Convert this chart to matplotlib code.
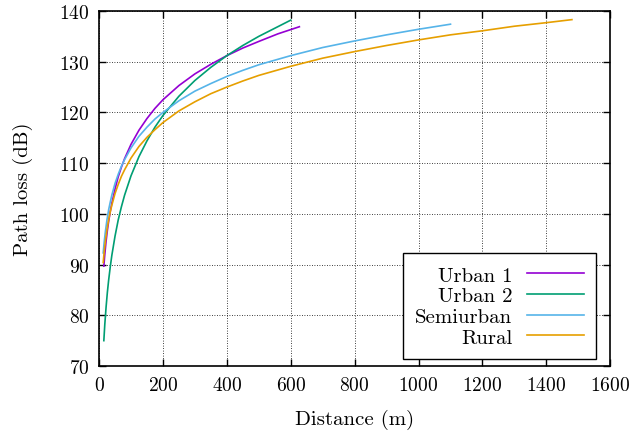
import matplotlib
matplotlib.use("Agg")
import matplotlib.pyplot as plt

# values
urban1_d = [15, 18, 22, 26, 30, 35, 40, 50, 60, 70, 80, 100, 125, 150, 175, 200, 250,
            300, 350, 400, 450, 500, 560, 627]
urban1_pl = [89.7, 92.0, 94.6, 96.7, 98.5, 100.4, 102.1, 104.9, 107.3, 109.2, 110.9,
             113.7, 116.5, 118.8, 120.8, 122.5, 125.3, 127.6, 129.5, 131.2, 132.7, 134.0,
             135.5, 136.9]

urban2_d = [15, 18, 22, 26, 30, 35, 40, 50, 60, 70, 80, 100, 125, 150, 175, 200, 250,
            300, 350, 400, 450, 500, 550, 600]
urban2_pl = [75.0, 78.2, 81.6, 84.5, 86.9, 89.5, 91.8, 95.6, 98.8, 101.4, 103.7,
             107.5, 111.3, 114.4, 117.1, 119.4, 123.2, 126.3, 128.9, 131.2, 133.2, 135.0,
             136.6, 138.2]

semi_d = [13, 16, 20, 25, 30, 35, 40, 50, 60, 70, 80, 100, 125, 150, 175, 200, 250,
          300, 350, 400, 450, 500, 600, 700, 800, 900, 1000, 1100]
semi_pl = [92.3, 94.4, 96.6, 98.9, 100.8, 102.3, 103.7, 106.0, 107.8, 109.4, 110.7,
           113.0, 115.3, 117.1, 118.7, 120.0, 122.3, 124.2, 125.7, 127.1, 128.3, 129.4,
           131.2, 132.8, 134.1, 135.3, 136.4, 137.4]

rural_d = [13, 16, 20, 25, 30, 35, 40, 50, 60, 70, 80, 100, 125, 150, 175, 200, 250,
           300, 350, 400, 450, 500, 600, 700, 800, 900, 1000, 1100, 1200, 1300, 1400,
           1480]
rural_pl = [90.4, 92.5, 94.7, 97.0, 98.8, 100.4, 101.7, 104.0, 105.8, 107.4, 108.7,
            111.0, 113.3, 115.1, 116.6, 118.0, 120.3, 122.1, 123.7, 125.0, 126.2, 127.3,
            129.1, 130.7, 132.0, 133.2, 134.3, 135.3, 136.1, 137.0, 137.7, 138.3]

plt.rcParams["font.family"] = "cmr10"
plt.rcParams["axes.formatter.use_mathtext"] = True
plt.rcParams["font.size"] = 14

fig = plt.figure(figsize=(6.39, 4.35), dpi=100)
ax = fig.add_axes([0.155, 0.1563, 0.8, 0.8161])

ax.plot(urban1_d, urban1_pl, color="#9400d3", lw=1.2, label="Urban 1")
ax.plot(urban2_d, urban2_pl, color="#009e73", lw=1.2, label="Urban 2")
ax.plot(semi_d, semi_pl, color="#56b4e9", lw=1.2, label="Semiurban")
ax.plot(rural_d, rural_pl, color="#e69f00", lw=1.2, label="Rural")

ax.set_xlim(0, 1600)
ax.set_ylim(70, 140)
ax.set_xticks(range(0, 1601, 200))
ax.set_yticks(range(70, 141, 10))
ax.set_xlabel("Distance (m)", fontsize=15, labelpad=11)
ax.set_ylabel("Path loss (dB)", fontsize=15, labelpad=19)

ax.grid(True, color="black", linestyle=(0, (1, 2)), linewidth=0.6)
ax.tick_params(direction="in", top=True, right=True, length=5, width=1, pad=7)
for s in ax.spines.values():
    s.set_linewidth(1.2)

leg = ax.legend(loc="lower right", markerfirst=False, fancybox=False,
                framealpha=1, edgecolor="black", handlelength=2.7, fontsize=15,
                borderpad=0.6, labelspacing=0.1, handletextpad=0.72,
                borderaxespad=0, bbox_to_anchor=(0.9726, 0.0197))
leg.get_frame().set_linewidth(1.0)
for t in leg.get_texts():
    t.set_ha("right")

fig.savefig("out.png", dpi=100)
